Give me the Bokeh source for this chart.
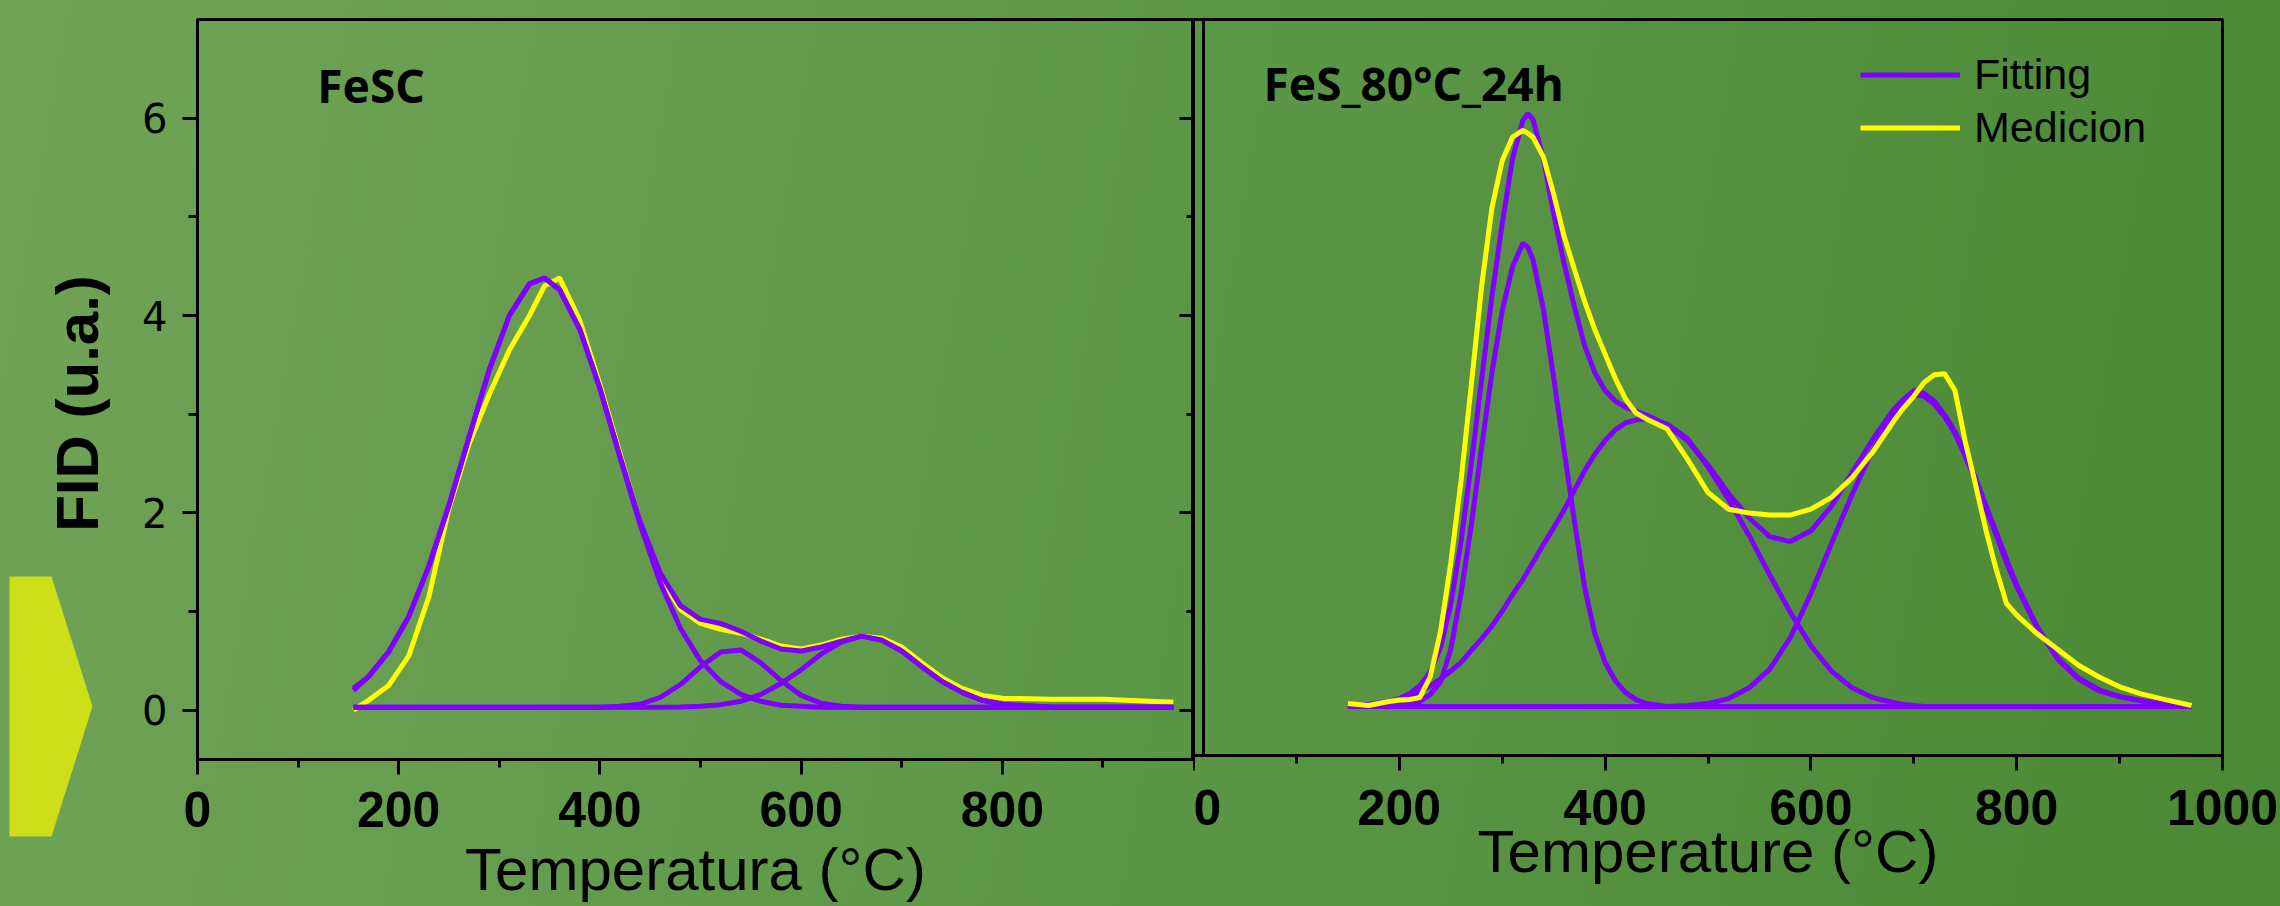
import math
from bokeh.plotting import figure
from bokeh.layouts import row, column
from bokeh.models import (FixedTicker, LinearAxis, Range1d, Label, Legend, LegendItem, Span)
from bokeh.embed import file_html
from bokeh.resources import INLINE

PURPLE = "#8000FF"
YELLOW = "#FFFF00"
ARROW = "#CEDE19"

# ---------------- data: left panel (FeSC) ----------------
L_T = [155, 170, 190, 210, 230, 250, 270, 290, 310, 330, 345, 360, 380, 400, 420, 440, 460,
       480, 500, 520, 540, 560, 580, 600, 620, 640, 660, 680, 700, 720, 740, 760, 780, 800,
       850, 900, 970]
L_fit = [0.20, 0.34, 0.59, 0.95, 1.46, 2.08, 2.77, 3.45, 4.00, 4.32, 4.38, 4.26, 3.86, 3.26,
         2.57, 1.91, 1.39, 1.06, 0.92, 0.88, 0.80, 0.70, 0.62, 0.60, 0.64, 0.70, 0.75, 0.71,
         0.60, 0.44, 0.29, 0.18, 0.10, 0.06, 0.03, 0.03, 0.03]
L_c1 = [0.22, 0.34, 0.59, 0.95, 1.46, 2.08, 2.77, 3.45, 4.00, 4.32, 4.38, 4.26, 3.86, 3.26,
        2.56, 1.88, 1.29, 0.83, 0.50, 0.29, 0.16, 0.09, 0.05, 0.04, 0.03, 0.03, 0.03, 0.03,
        0.03, 0.03, 0.03, 0.03, 0.03, 0.03, 0.03, 0.03, 0.03]
L_c2 = [0.03, 0.03, 0.03, 0.03, 0.03, 0.03, 0.03, 0.03, 0.03, 0.03, 0.03, 0.03, 0.03, 0.03,
        0.04, 0.06, 0.13, 0.26, 0.44, 0.59, 0.61, 0.48, 0.30, 0.15, 0.07, 0.04, 0.03, 0.03,
        0.03, 0.03, 0.03, 0.03, 0.03, 0.03, 0.03, 0.03, 0.03]
L_c3 = [0.03, 0.03, 0.03, 0.03, 0.03, 0.03, 0.03, 0.03, 0.03, 0.03, 0.03, 0.03, 0.03, 0.03,
        0.03, 0.03, 0.03, 0.033, 0.04, 0.056, 0.09, 0.16, 0.27, 0.41, 0.57, 0.69, 0.75, 0.71,
        0.60, 0.44, 0.29, 0.18, 0.10, 0.06, 0.03, 0.03, 0.03]
L_meas = [0.00, 0.10, 0.25, 0.55, 1.15, 2.05, 2.70, 3.20, 3.65, 4.00, 4.30, 4.38, 3.95, 3.30,
          2.60, 1.90, 1.35, 1.02, 0.88, 0.82, 0.78, 0.72, 0.65, 0.62, 0.66, 0.72, 0.75, 0.73,
          0.64, 0.48, 0.33, 0.22, 0.15, 0.12, 0.11, 0.11, 0.08]

# ---------------- data: right panel (FeS_80°C_24h) ----------------
R_T = [150, 160, 170, 180, 190, 200, 210, 220, 230, 240, 250, 260, 270, 280, 290, 300, 310,
       320, 325, 330, 340, 350, 360, 370, 380, 390, 400, 410, 420, 430, 440, 460, 480, 500,
       520, 540, 560, 580, 600, 620, 640, 660, 680, 690, 700, 710, 720, 730, 740, 750, 760,
       770, 780, 790, 800, 820, 840, 860, 880, 900, 920, 940, 970]
R_c1 = [0, 0, 0, 0, 0, 0.01, 0.02, 0.05, 0.12, 0.25, 0.58, 1.15, 1.85, 2.64, 3.40, 4.03,
        4.48, 4.72, 4.68, 4.55, 4.05, 3.35, 2.62, 1.90, 1.22, 0.74, 0.45, 0.26, 0.14, 0.07,
        0.03, 0, 0, 0, 0, 0, 0, 0, 0, 0, 0, 0, 0, 0, 0, 0, 0, 0, 0, 0, 0, 0, 0, 0, 0, 0, 0,
        0, 0, 0, 0, 0, 0]
R_c2 = [0.01, 0.01, 0.02, 0.035, 0.05, 0.075, 0.11, 0.15, 0.21, 0.28, 0.36, 0.45, 0.57,
        0.69, 0.82, 0.97, 1.14, 1.29, 1.38, 1.47, 1.65, 1.82, 2.00, 2.20, 2.40, 2.57, 2.71,
        2.82, 2.89, 2.92, 2.93, 2.88, 2.73, 2.44, 2.11, 1.74, 1.34, 0.96, 0.62, 0.36, 0.19,
        0.09, 0.04, 0.02, 0.01, 0, 0, 0, 0, 0, 0, 0, 0, 0, 0, 0, 0, 0, 0, 0, 0, 0, 0]
R_c3 = [0, 0, 0, 0, 0, 0, 0, 0, 0, 0, 0, 0, 0, 0, 0, 0, 0, 0, 0, 0, 0, 0, 0, 0, 0, 0, 0, 0,
        0, 0, 0, 0, 0.01, 0.03, 0.08, 0.19, 0.38, 0.70, 1.15, 1.66, 2.16, 2.61, 2.95, 3.08,
        3.18, 3.16, 3.08, 2.95, 2.78, 2.55, 2.30, 2.02, 1.75, 1.47, 1.22, 0.80, 0.48, 0.28,
        0.16, 0.10, 0.06, 0.03, 0.01]
R_fit = [0.01, 0.01, 0.02, 0.03, 0.05, 0.08, 0.13, 0.21, 0.35, 0.60, 1.04, 1.68, 2.48, 3.33,
         4.18, 4.92, 5.58, 5.97, 6.04, 5.98, 5.58, 5.02, 4.52, 4.08, 3.68, 3.40, 3.22, 3.11,
         3.05, 3.01, 2.97, 2.87, 2.71, 2.46, 2.17, 1.92, 1.73, 1.68, 1.79, 2.04, 2.38, 2.72,
         3.02, 3.13, 3.22, 3.19, 3.11, 2.97, 2.80, 2.58, 2.33, 2.05, 1.78, 1.50, 1.24, 0.81,
         0.49, 0.29, 0.17, 0.10, 0.06, 0.03, 0.01]
R_meas = [0.03, 0.02, 0.01, 0.03, 0.05, 0.065, 0.07, 0.09, 0.30, 0.76, 1.46, 2.30, 3.28,
          4.28, 5.08, 5.56, 5.80, 5.87, 5.84, 5.80, 5.60, 5.22, 4.80, 4.46, 4.13, 3.84, 3.59,
          3.34, 3.13, 2.99, 2.93, 2.83, 2.52, 2.18, 2.01, 1.97, 1.95, 1.95, 2.01, 2.13, 2.33,
          2.59, 2.90, 3.04, 3.16, 3.30, 3.38, 3.39, 3.22, 2.70, 2.26, 1.80, 1.40, 1.05, 0.93,
          0.74, 0.58, 0.42, 0.30, 0.20, 0.13, 0.08, 0.01]

X_TICKS = [0, 200, 400, 600, 800, 1000]
X_MINOR = [100, 300, 500, 700, 900]
Y_TICKS = [0, 2, 4, 6]
Y_MINOR = [1, 3, 5]
Y_LABEL = "FID (u.a.)"
X_LABEL_L = "Temperatura (°C)"
X_LABEL_R = "Temperature (°C)"
TITLE_L = "FeSC"
TITLE_R = "FeS_80°C_24h"
LEGEND_LABELS = ["Fitting", "Medicion"]

# decorative arrow outline (page pixels, y measured upward)
ARROW_X = [9, 51, 92, 51, 9]
ARROW_Y = [330, 330, 200, 70, 70]

LW = 5
H = 906


def style_xaxis(ax, label, standoff, label_standoff):
    ax.ticker = FixedTicker(ticks=X_TICKS, minor_ticks=X_MINOR)
    ax.axis_line_width = 3
    ax.major_tick_line_width = 3
    ax.minor_tick_line_width = 3
    ax.major_tick_out = 15
    ax.major_tick_in = 0
    ax.minor_tick_out = 8
    ax.minor_tick_in = 0
    ax.major_label_text_font = "Liberation Sans"
    ax.major_label_text_font_style = "bold"
    ax.major_label_text_font_size = "50px"
    ax.major_label_text_color = "black"
    ax.major_label_standoff = standoff
    ax.axis_label = label
    ax.axis_label_text_font = "Liberation Sans"
    ax.axis_label_text_font_style = "normal"
    ax.axis_label_text_font_size = "60px"
    ax.axis_label_text_color = "black"
    ax.axis_label_standoff = label_standoff


def base_fig(width, x_end, mb_left, mb_right, mb_bottom, y_loc):
    p = figure(width=width, height=H, x_range=Range1d(0, x_end), y_range=Range1d(-0.5, 7),
               output_backend="svg", toolbar_location=None, y_axis_location=y_loc,
               min_border_left=mb_left, min_border_right=mb_right, min_border_top=19,
               min_border_bottom=mb_bottom)
    p.background_fill_alpha = 0
    p.border_fill_alpha = 0
    p.outline_line_color = "black"
    p.outline_line_width = 3
    p.outline_line_alpha = 1
    p.grid.visible = False
    return p


# ---------------- decoration strip (arrow + y label) ----------------
deco = figure(width=112, height=H, x_range=Range1d(0, 112), y_range=Range1d(0, H),
              output_backend="svg", toolbar_location=None, x_axis_location=None,
              y_axis_location=None, min_border=0)
deco.background_fill_alpha = 0
deco.border_fill_alpha = 0
deco.outline_line_alpha = 0
deco.grid.visible = False
deco.patch(ARROW_X, ARROW_Y, fill_color=ARROW, line_alpha=0)
deco.add_layout(Label(x=77, y=H - 403, text=Y_LABEL, angle=math.pi / 2,
                      text_align="center", text_baseline="alphabetic",
                      text_font="Liberation Sans", text_font_style="bold",
                      text_font_size="60px", text_color="black"))

# ---------------- left figure ----------------
left = base_fig(1081, 990, 85, 0, 147, "left")
style_xaxis(left.xaxis[0], X_LABEL_L, 17, 6)
ya = left.yaxis[0]
ya.ticker = FixedTicker(ticks=Y_TICKS, minor_ticks=Y_MINOR)
ya.axis_line_width = 3
ya.major_tick_line_width = 3
ya.minor_tick_line_width = 3
ya.major_tick_out = 15
ya.major_tick_in = 0
ya.minor_tick_out = 9
ya.minor_tick_in = 0
ya.major_label_text_font = "DejaVu Sans"
ya.major_label_text_font_size = "40px"
ya.major_label_text_color = "black"
ya.major_label_standoff = 15

# ticks of the second panel's left axis, drawn at the panel junction
for mt, ln in ((Y_TICKS, 14), (Y_MINOR, 7)):
    left.add_layout(LinearAxis(ticker=FixedTicker(ticks=[], minor_ticks=mt),
                               minor_tick_in=ln, minor_tick_out=0, major_tick_in=0,
                               major_tick_out=0, minor_tick_line_width=3,
                               axis_line_width=3, major_label_standoff=0), "right")

left.line(L_T, L_meas, line_color=YELLOW, line_width=LW)
for ys in (L_c1, L_c2, L_c3, L_fit):
    left.line(L_T, ys, line_color=PURPLE, line_width=LW)

left.add_layout(Label(x=119, y=6.34, text=TITLE_L, text_font="Noto Sans",
                      text_font_style="bold", text_font_size="46px", text_color="black",
                      text_baseline="alphabetic"))

# ---------------- right figure ----------------
right = base_fig(1087, 1000, 0, 58, 151, None)
style_xaxis(right.xaxis[0], X_LABEL_R, 19, -10)

for ys in (R_c1, R_c2, R_c3):
    right.line(R_T, ys, line_color=PURPLE, line_width=LW)
r_fit = right.line(R_T, R_fit, line_color=PURPLE, line_width=LW)
r_meas = right.line(R_T, R_meas, line_color=YELLOW, line_width=LW)

right.add_layout(Span(location=9.7, dimension="height", line_color="black", line_width=3))

right.add_layout(Label(x=68, y=6.35, text=TITLE_R, text_font="Noto Sans",
                       text_font_style="bold", text_font_size="46px", text_color="black",
                       text_baseline="alphabetic"))

legend = Legend(items=[LegendItem(label=LEGEND_LABELS[0], renderers=[r_fit]),
                       LegendItem(label=LEGEND_LABELS[1], renderers=[r_meas])],
                location=(667, 601), padding=0, margin=0, spacing=0,
                glyph_width=100, glyph_height=53, label_height=53, label_standoff=14,
                label_text_font="Liberation Sans", label_text_font_size="43px",
                label_text_color="black", border_line_alpha=0, background_fill_alpha=0)
right.add_layout(legend, "center")

layout = row(column(deco), column(left), column(right), spacing=0,
             styles={"background": "linear-gradient(100deg, #70a357 0%, #5c9747 50%, #4b8936 100%)"})

open("out.html", "w").write(file_html(layout, INLINE))
